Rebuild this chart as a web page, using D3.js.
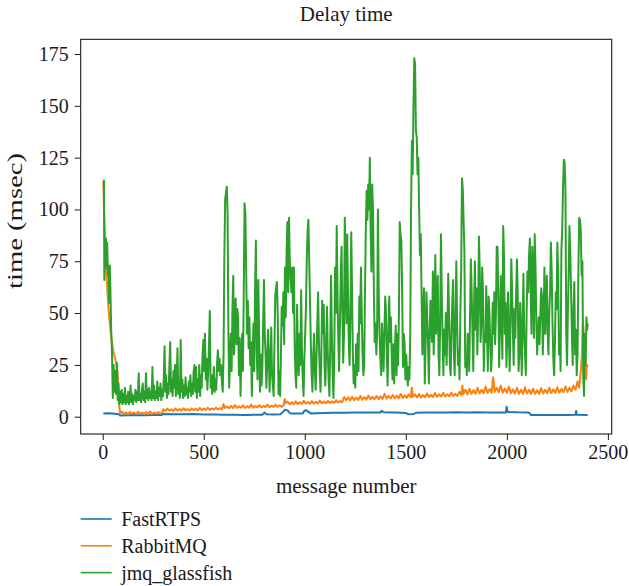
<!DOCTYPE html>
<html>
<head>
<meta charset="utf-8">
<script src="https://cdn.jsdelivr.net/npm/d3@7"></script>
<style>
  html, body { margin: 0; padding: 0; background: #fff; }
  svg text { font-family: "Liberation Serif", "DejaVu Serif", serif; fill: #1a1a1a; }
</style>
</head>
<body>
<svg id="chart" width="629" height="586"></svg>
<script>
// ---------------- data ----------------
const title = "Delay time";
const xLabel = "message number";
const yLabel = "time (msec)";
const seriesNames = ["FastRTPS", "RabbitMQ", "jmq_glassfish"];
const xTicks = [0, 500, 1000, 1500, 2000, 2500];
const yTicks = [0, 25, 50, 75, 100, 125, 150, 175];
const xLimits = [-109, 2519];
const yLimits = [-8.35, 182.1];

// [message number, delay (msec)]
const fastRTPS = [[3,1.5],[30,1.7],[60,1.4],[80,1.2],[86,0.6],[150,0.8],[200,0.7],[250,0.8],[290,0.8],[300,1.3],[350,1.2],[400,1.2],[450,1.3],[500,1.1],[550,1.0],[600,0.9],[650,0.9],[700,0.8],[750,0.9],[790,0.9],[800,2.0],[810,1.2],[850,1.1],[880,1.2],[895,2.6],[902,3.4],[915,3.0],[928,1.6],[960,1.5],[990,1.6],[998,2.8],[1005,3.2],[1015,2.6],[1030,1.6],[1060,1.7],[1100,1.8],[1150,1.9],[1200,1.9],[1250,2.0],[1300,2.0],[1350,2.0],[1375,2.0],[1380,2.9],[1390,2.1],[1450,2.0],[1500,1.8],[1510,1.2],[1540,1.3],[1550,1.9],[1600,2.0],[1650,2.0],[1700,2.0],[1750,2.1],[1800,2.0],[1850,2.1],[1900,2.0],[1950,2.0],[1995,2.0],[1999,4.8],[2004,2.3],[2050,2.1],[2110,2.0],[2120,0.8],[2200,0.8],[2250,0.8],[2300,0.8],[2340,0.9],[2343,2.8],[2346,0.9],[2400,0.8]];

const rabbitMQ = [[3,113],[8,96],[14,80],[20,66],[26,56],[32,48],[38,42],[44,37],[50,33],[56,30],[62,28],[68,25],[74,21],[78,13],[82,5],[86,1.6],[95,2.4],[105,1.3],[115,2],[125,1.2],[135,2.3],[145,1.4],[155,2],[165,1.2],[175,2.4],[185,1.5],[195,2],[205,1.3],[215,2.2],[225,1.4],[235,2.5],[245,1.3],[255,2],[265,1.4],[275,2.2],[285,1.5],[295,1.9],[300,3.6],[310,2.8],[320,3.9],[330,3],[340,3.6],[350,2.8],[360,4],[370,3],[380,3.7],[390,2.9],[400,4.1],[410,3.1],[420,3.7],[430,3],[440,4],[450,3.2],[460,3.8],[470,3.1],[480,4.2],[490,3.2],[500,3.9],[510,3.3],[520,4.3],[530,3.3],[540,4],[550,3.4],[560,4.4],[570,3.5],[580,4.2],[590,3.5],[598,6],[605,4.2],[615,5],[625,4],[635,5.2],[645,4.1],[655,5.6],[665,4.2],[675,5],[685,4.3],[695,5.5],[705,4.2],[715,5.1],[725,4.4],[735,5.8],[745,4.3],[755,5.2],[765,4.5],[775,5.6],[785,4.4],[795,5.2],[805,4.6],[815,5.8],[825,4.6],[835,5.3],[845,4.7],[855,5.8],[865,4.8],[875,5.5],[885,4.8],[895,5.3],[900,8.5],[905,6.5],[915,7.3],[925,6],[935,7],[945,6],[955,7.4],[965,6.1],[975,7],[985,6.2],[995,7.6],[1005,6.3],[1015,7.1],[1025,6.2],[1035,7.5],[1045,6.3],[1055,7.2],[1065,6.4],[1075,7.8],[1085,6.4],[1095,7.3],[1105,6.5],[1115,7.6],[1125,6.6],[1135,7.4],[1145,6.6],[1155,8],[1165,6.8],[1175,7.6],[1185,6.9],[1195,9.5],[1205,8],[1215,9.3],[1225,7.9],[1235,9.6],[1245,8],[1255,9.2],[1265,8.1],[1275,10],[1285,8.2],[1295,9.4],[1305,8.3],[1315,10.2],[1325,8.4],[1335,9.5],[1345,8.4],[1355,10],[1365,8.5],[1375,9.8],[1385,8.6],[1395,11],[1405,8.7],[1415,10],[1425,8.8],[1435,10.5],[1445,8.9],[1455,10.2],[1465,9],[1475,11],[1485,9],[1495,10.3],[1505,9.1],[1515,10.8],[1525,9.4],[1530,14],[1535,9.5],[1545,10.8],[1555,9.3],[1565,11],[1575,9.3],[1585,10.5],[1595,9.4],[1605,11.2],[1615,9.5],[1625,10.6],[1635,9.5],[1645,11.4],[1655,9.6],[1665,10.8],[1675,9.7],[1685,11.5],[1695,9.8],[1705,10.8],[1715,9.8],[1725,11.6],[1735,10],[1745,11],[1755,10],[1765,12],[1775,10.5],[1780,15],[1785,11],[1795,13],[1805,10.8],[1815,13.5],[1825,11],[1835,12.8],[1845,11],[1855,14],[1865,11.2],[1875,13],[1885,11.3],[1895,14.5],[1905,11.5],[1915,13.4],[1925,11.6],[1932,19],[1940,12],[1950,14],[1960,11.8],[1970,15],[1980,11.6],[1990,13.5],[2000,11.5],[2010,14.5],[2020,11.3],[2030,13.2],[2040,11.2],[2050,14],[2060,11],[2070,13],[2080,11],[2090,14.2],[2100,11.2],[2110,13],[2120,11],[2130,13.5],[2140,11],[2150,12.8],[2160,11],[2170,13.8],[2180,11.2],[2190,13],[2200,11.3],[2210,14],[2220,11.4],[2230,13.2],[2240,11.5],[2250,14.2],[2260,11.6],[2270,13.4],[2280,11.8],[2290,14.5],[2300,12],[2310,14],[2320,12.2],[2330,15],[2340,13],[2350,17],[2358,14],[2366,22],[2372,30],[2376,46],[2380,42],[2384,20],[2388,34],[2392,18],[2396,25],[2400,24]];

const jmqGlassfish = [[3,113],[6,114],[8,66],[12,80],[16,86],[19,72],[22,84],[26,68],[29,71],[32,55],[35,73],[38,62],[42,42],[46,30],[50,9],[54,25],[58,12],[62,22],[66,11],[70,26],[74,8],[78,16],[82,6],[86,12],[90,7],
[94,13],[98,6],[102,11],[106,7],[110,14],[114,6],[118,10],[122,7],[126,12],[130,6],[134,9],[138,15],[142,7],[146,11],[150,6],[154,10],[158,8],[162,13],[166,7],[170,12],[174,8],[178,21],[182,8],[186,11],[190,7],[194,13],[198,16],[202,8],[206,12],[210,7],[214,21],[218,9],[222,13],[226,8],[230,14],[234,9],[238,12],[242,8],[246,24],[250,9],[254,15],[258,8],[262,12],[266,9],[270,17],[274,8],[278,14],[282,10],[286,16],[290,8],[294,13],[298,10],[302,18],[306,34],[310,12],[314,20],[318,9],[322,16],[326,11],[330,25],[334,36],[338,12],[342,18],[346,10],[350,22],[354,14],[358,25],[362,10],[366,18],[370,33],[374,11],[378,16],[382,9],[386,37],[390,12],[394,18],[398,9],[402,15],[406,10],[410,19],[414,11],[418,14],[422,9],[426,17],[430,12],[434,20],[438,10],[442,16],[446,11],[450,22],[454,25],[458,12],
[462,24],[466,9],[470,18],[474,12],[478,25],[482,10],[486,20],[490,14],[494,30],[498,37],[502,22],[506,40],[510,18],[514,28],[518,13],[522,22],[526,35],[530,51],[534,14],[538,20],[542,11],[546,15],[550,24],[554,12],[558,18],[562,13],[566,26],[570,32],[574,22],[578,28],[582,20],[586,25],[590,16],[594,12],[598,30],[602,78],[606,105],[610,108],[614,111],[618,98],[622,40],[626,14],[630,28],[634,40],[638,22],[642,52],[646,68],[650,30],[654,45],[658,57],[662,35],[666,52],[670,48],[674,20],[678,38],[682,10],[686,28],[690,40],[694,22],[698,60],[702,103],[706,98],[710,71],[714,40],[718,56],[722,33],[726,48],[730,25],[734,36],[738,10],[742,30],[746,45],[750,22],[754,62],[758,85],[762,32],[766,18],[770,66],[774,40],[778,12],[782,30],[786,15],[790,24],[794,45],[798,66],[802,40],[806,30],[810,14],[814,25],[818,42],[822,30],[826,12],[830,26],[834,43],[838,20],[842,15],[846,10],[850,35],[854,59],[858,62],[862,65],[866,50],[870,11],[874,22],[878,10],[882,30],[886,53],[890,44],[894,60],[898,35],[902,72],[906,48],[910,80],[914,94],[918,60],[922,96],[926,75],[930,66],[934,60],[938,72],[942,50],
[946,72],[950,35],[954,20],[958,14],[962,54],[966,30],[970,20],[974,40],[978,25],[982,61],[986,32],[990,18],[994,10],[998,28],[1002,40],[1006,53],[1010,77],[1014,90],[1018,95],[1022,75],[1026,55],[1030,35],[1034,20],[1038,12],[1042,30],[1046,40],[1050,22],[1054,13],[1058,28],[1062,45],[1066,60],[1070,36],[1074,22],[1078,12],[1082,30],[1086,56],[1090,40],[1094,54],[1098,24],[1102,15],[1106,35],[1110,53],[1114,30],[1118,18],[1122,10],[1126,35],[1130,68],[1134,40],[1138,20],[1142,9],[1146,30],[1150,72],[1154,50],[1158,92],[1162,60],[1166,36],[1170,22],[1174,45],[1178,68],[1182,82],[1186,50],[1190,26],[1194,40],[1198,96],[1202,70],[1206,45],[1210,88],[1214,60],[1218,35],[1222,25],[1226,50],[1230,89],[1234,60],[1238,30],[1242,16],[1246,25],[1250,14],[1254,35],[1258,20],[1262,40],[1266,22],[1270,58],[1274,45],[1278,72],[1282,50],[1286,30],[1290,20],[1294,25],[1298,60],[1302,90],[1306,109],[1310,95],[1314,112],[1318,100],[1322,125],[1326,90],[1330,70],[1334,112],[1338,98],[1342,60],[1346,36],[1350,45],[1354,30],[1358,40],[1362,100],[1366,60],[1370,40],[1374,28],[1378,20],[1382,45],[1386,35],[1390,22],[1394,40],[1398,58],[1402,50],[1406,30],[1410,15],[1414,40],[1418,58],
[1422,36],[1426,48],[1430,30],[1434,18],[1438,35],[1442,16],[1446,32],[1450,44],[1454,20],[1458,40],[1462,25],[1466,50],[1470,94],[1474,88],[1478,85],[1482,60],[1486,24],[1490,40],[1494,35],[1498,18],[1502,30],[1506,22],[1510,15],[1514,24],[1518,18],[1522,40],[1526,100],[1530,133],[1534,117],[1538,150],[1542,173],[1546,170],[1550,138],[1554,135],[1558,117],[1562,125],[1566,100],[1570,78],[1574,88],[1578,60],[1582,30],[1586,50],[1590,62],[1594,16],[1598,35],[1602,60],[1606,48],[1610,35],[1614,16],[1618,40],[1622,56],[1626,42],[1630,36],[1634,70],[1638,30],[1642,50],[1646,78],[1650,40],[1654,55],[1658,68],[1662,30],[1666,20],[1670,45],[1674,88],[1678,60],[1682,38],[1686,20],[1690,42],[1694,30],[1698,50],[1702,25],[1706,45],[1710,69],[1714,50],[1718,25],[1722,20],[1726,40],[1730,55],[1734,66],[1738,30],[1742,20],[1746,50],[1750,75],[1754,45],[1758,25],[1762,32],[1766,18],[1770,50],[1774,70],[1778,115],[1782,110],[1786,95],[1790,80],[1794,24],[1798,30],[1802,20],[1806,40],[1810,35],[1814,22],[1818,50],[1822,76],[1826,60],[1830,40],[1834,22],[1838,55],[1842,75],[1846,42],[1850,62],[1854,30],[1858,50],[1862,87],[1866,70],[1870,36],[1874,45],[1878,72],[1882,60],[1886,22],[1890,40],[1894,36],
[1898,63],[1902,40],[1906,22],[1910,58],[1914,50],[1918,35],[1922,22],[1926,30],[1930,55],[1934,40],[1938,60],[1942,35],[1946,50],[1950,82],[1954,82],[1958,55],[1962,24],[1966,45],[1970,68],[1974,45],[1978,28],[1982,92],[1986,78],[1990,40],[1994,55],[1998,24],[2002,40],[2006,60],[2010,38],[2014,22],[2018,45],[2022,76],[2026,62],[2030,40],[2034,25],[2038,52],[2042,38],[2046,60],[2050,76],[2054,60],[2058,22],[2062,30],[2066,55],[2070,40],[2074,20],[2078,45],[2082,69],[2086,40],[2090,30],[2094,20],[2098,50],[2102,70],[2106,60],[2110,78],[2114,86],[2118,60],[2122,40],[2126,82],[2130,70],[2134,38],[2138,88],[2142,72],[2146,45],[2150,30],[2154,40],[2158,48],[2162,35],[2166,50],[2170,62],[2174,58],[2178,30],[2182,45],[2186,72],[2190,40],[2194,55],[2198,68],[2202,40],[2206,30],[2210,50],[2214,60],[2218,84],[2222,70],[2226,45],[2230,28],[2234,20],[2238,35],[2242,60],[2246,52],[2250,84],[2254,70],[2258,30],[2262,40],[2266,22],[2270,80],[2274,90],[2278,110],[2282,124],[2286,123],[2290,110],[2294,40],[2298,25],[2302,50],[2306,70],[2310,92],[2314,80],[2318,60],[2322,40],[2326,25],[2330,52],[2334,65],[2338,30],[2342,42],[2346,20],[2350,30],[2354,70],[2358,96],[2362,95],[2366,90],[2370,68],[2374,75],[2378,20],[2382,10],[2386,40],[2390,25],[2394,48],[2398,42],[2400,45]];

const seriesData = [fastRTPS, rabbitMQ, jmqGlassfish];
const seriesColors = ["#1f77b4", "#ff7f0e", "#2ca02c"];

// ---------------- layout ----------------
const plot = { left: 80.7, right: 611.7, top: 39.3, bottom: 434 };
const svg = d3.select("#chart");

const x = d3.scaleLinear().domain(xLimits).range([plot.left, plot.right]);
const y = d3.scaleLinear().domain(yLimits).range([plot.bottom, plot.top]);

svg.append("clipPath").attr("id", "plotclip")
  .append("rect")
  .attr("x", plot.left).attr("y", plot.top)
  .attr("width", plot.right - plot.left).attr("height", plot.bottom - plot.top);

const line = d3.line().x(d => x(d[0])).y(d => y(d[1]));

const lines = svg.append("g").attr("clip-path", "url(#plotclip)");
seriesData.forEach((s, i) => {
  lines.append("path")
    .datum(s)
    .attr("d", line)
    .attr("fill", "none")
    .attr("stroke", seriesColors[i])
    .attr("stroke-width", 2)
    .attr("stroke-linejoin", "round");
});

// axes
const fontSize = 20;
const xAxis = svg.append("g")
  .attr("transform", `translate(0,${plot.bottom})`)
  .call(d3.axisBottom(x).tickValues(xTicks).tickFormat(d3.format("d")).tickSize(6).tickSizeOuter(0).tickPadding(5));
const yAxis = svg.append("g")
  .attr("transform", `translate(${plot.left},0)`)
  .call(d3.axisLeft(y).tickValues(yTicks).tickFormat(d3.format("d")).tickSize(6).tickSizeOuter(0).tickPadding(6));

[xAxis, yAxis].forEach(g => {
  g.select(".domain").remove();
  g.selectAll(".tick line").attr("stroke", "#1a1a1a").attr("stroke-width", 1);
  g.selectAll(".tick text")
    .style("font-family", '"Liberation Serif", serif')
    .style("font-size", fontSize + "px")
    .attr("fill", "#1a1a1a");
});

// frame
svg.append("rect")
  .attr("x", plot.left).attr("y", plot.top)
  .attr("width", plot.right - plot.left).attr("height", plot.bottom - plot.top)
  .attr("fill", "none").attr("stroke", "#1a1a1a").attr("stroke-width", 1.1);

// title
svg.append("text")
  .attr("x", (plot.left + plot.right) / 2).attr("y", 21)
  .attr("text-anchor", "middle")
  .style("font-size", "21px")
  .text(title);

// x label
svg.append("text")
  .attr("x", (plot.left + plot.right) / 2).attr("y", 493)
  .attr("text-anchor", "middle")
  .style("font-size", "21px")
  .text(xLabel);

// y label
svg.append("text")
  .attr("transform", `translate(22,221) rotate(-90)`)
  .attr("text-anchor", "middle")
  .attr("textLength", 136)
  .attr("lengthAdjust", "spacingAndGlyphs")
  .style("font-size", "21px")
  .text(yLabel);

// legend
const legend = svg.append("g").attr("transform", "translate(80.7,519)");
seriesNames.forEach((name, i) => {
  const g = legend.append("g").attr("transform", `translate(0,${i * 26.8})`);
  g.append("line").attr("x1", 0).attr("x2", 31).attr("y1", 0).attr("y2", 0)
    .attr("stroke", seriesColors[i]).attr("stroke-width", 1.6);
  g.append("text").attr("x", 40.5).attr("y", 7)
    .style("font-size", "20px")
    .text(name);
});
</script>
</body>
</html>
